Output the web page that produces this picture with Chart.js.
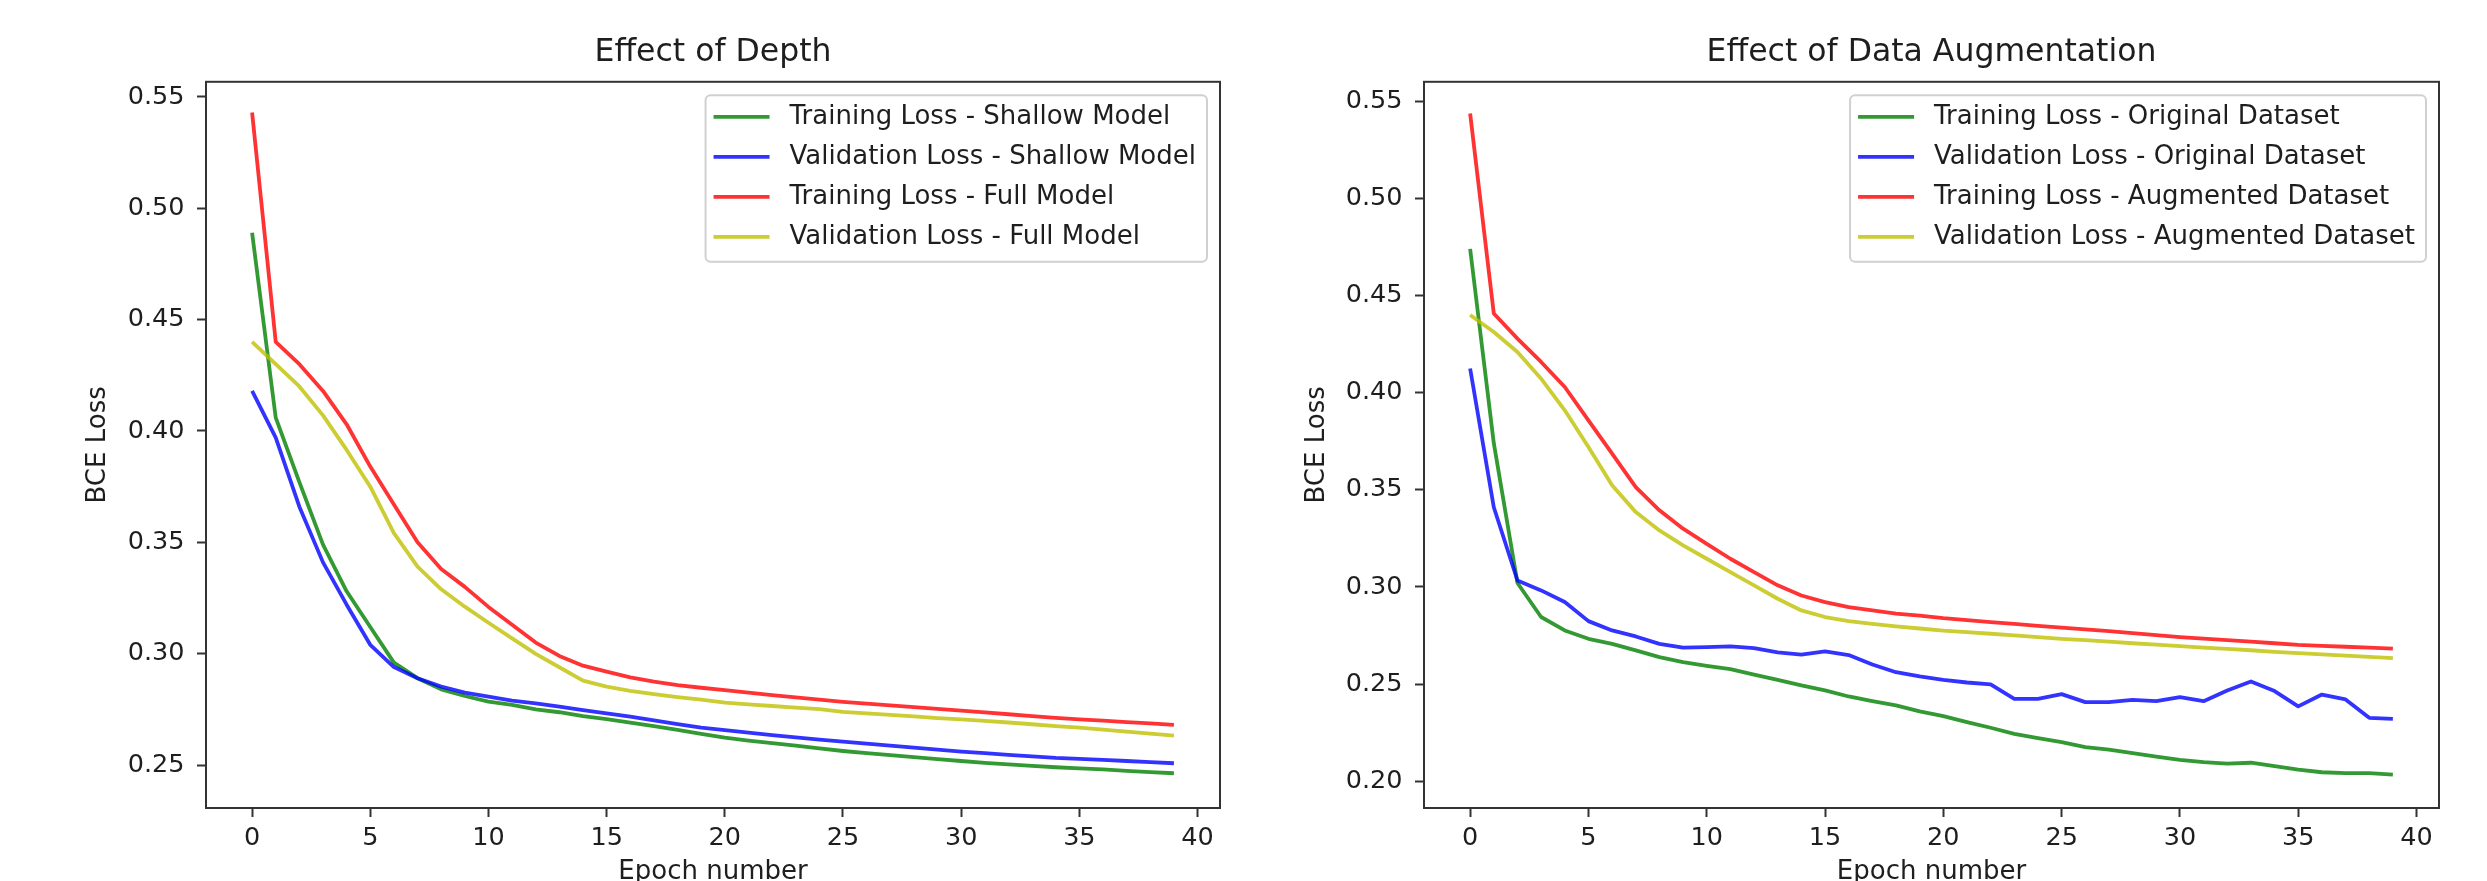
<!DOCTYPE html>
<html lang="en">
<head>
    <meta charset="UTF-8">
    <title>Effect of Depth / Effect of Data Augmentation</title>
    <script src="https://cdn.jsdelivr.net/npm/chart.js"></script>
    <style>
        body {
            margin: 0;
            background: #fff;
        }

        .wrap {
            position: relative;
            width: 2487px;
            height: 881px;
            overflow: hidden;
        }

        #depthChart {
            position: absolute;
            left: 0;
            top: 0;
        }

        #augChart {
            position: absolute;
            left: 1240px;
            top: 0;
        }
    </style>
</head>
<body>
    <div class="wrap">
        <canvas id="depthChart" width="1240" height="881"></canvas>
        <canvas id="augChart" width="1247" height="881"></canvas>
    </div>

    <script>
        // epochs + tick labels
        const epochs = [0, 1, 2, 3, 4, 5, 6, 7, 8, 9, 10, 11, 12, 13, 14, 15, 16, 17, 18, 19,
            20, 21, 22, 23, 24, 25, 26, 27, 28, 29, 30, 31, 32, 33, 34, 35, 36, 37, 38, 39];
        const epochTicks = [0, 5, 10, 15, 20, 25, 30, 35, 40];
        const depthTicks = [0.25, 0.30, 0.35, 0.40, 0.45, 0.50, 0.55];
        const augTicks = [0.20, 0.25, 0.30, 0.35, 0.40, 0.45, 0.50, 0.55];

        // left plot - depth
        const shallowTrain = [0.489, 0.406, 0.377, 0.349, 0.328, 0.312, 0.296, 0.289, 0.284, 0.281,
            0.2785, 0.277, 0.275, 0.2737, 0.272, 0.2706, 0.269, 0.2675, 0.2658, 0.264,
            0.2623, 0.261, 0.2598, 0.2587, 0.2575, 0.2563, 0.2553, 0.2544, 0.2535, 0.2526,
            0.2518, 0.251, 0.2503, 0.2496, 0.249, 0.2485, 0.248, 0.2474, 0.2468, 0.2463];
        const shallowVal = [0.418, 0.397, 0.366, 0.341, 0.322, 0.304, 0.294, 0.289, 0.2852, 0.2825,
            0.2807, 0.2789, 0.2777, 0.2762, 0.2747, 0.2732, 0.2717, 0.27, 0.2684, 0.2668,
            0.2657, 0.2645, 0.2634, 0.2624, 0.2614, 0.2605, 0.2596, 0.2587, 0.2578, 0.2569,
            0.256, 0.2553, 0.2546, 0.2539, 0.2532, 0.2528, 0.2523, 0.2518, 0.2513, 0.2508];
        const fullTrain = [0.543, 0.440, 0.430, 0.418, 0.403, 0.384, 0.367, 0.350, 0.338, 0.330,
            0.321, 0.313, 0.305, 0.299, 0.2946, 0.2919, 0.2894, 0.2874, 0.2859, 0.2847,
            0.2836, 0.2825, 0.2814, 0.2804, 0.2794, 0.2784, 0.2776, 0.2768, 0.276, 0.2752,
            0.2744, 0.2736, 0.2728, 0.272, 0.2712, 0.2705, 0.2699, 0.2693, 0.2687, 0.268];
        const fullVal = [0.440, 0.430, 0.420, 0.407, 0.3915, 0.375, 0.3541, 0.3391, 0.3289, 0.3211,
            0.3139, 0.3069, 0.2999, 0.2939, 0.2879, 0.2852, 0.2833, 0.2818, 0.2805, 0.2794,
            0.278, 0.2772, 0.2765, 0.2758, 0.2751, 0.2739, 0.2732, 0.2725, 0.2718, 0.2711,
            0.2705, 0.2698, 0.2691, 0.2683, 0.2675, 0.2668, 0.2659, 0.265, 0.2641, 0.2632];

        // right plot - augmentation
        const origTrain = [0.474, 0.374, 0.302, 0.2845, 0.2776, 0.2733, 0.2707, 0.2673, 0.2639, 0.2613,
            0.2594, 0.2577, 0.2549, 0.2522, 0.2493, 0.2467, 0.2436, 0.2412, 0.239, 0.2359,
            0.2335, 0.2304, 0.2275, 0.2244, 0.2222, 0.2201, 0.2175, 0.2162, 0.2144, 0.2127,
            0.211, 0.2098, 0.209, 0.2095, 0.2077, 0.2059, 0.2046, 0.2041, 0.2041, 0.2034];
        const origVal = [0.4124, 0.341, 0.3033, 0.2982, 0.2922, 0.2824, 0.2776, 0.2745, 0.2707, 0.2687,
            0.269, 0.2694, 0.2685, 0.2663, 0.2652, 0.2668, 0.2649, 0.2601, 0.2561, 0.2539,
            0.2522, 0.2508, 0.2498, 0.2424, 0.2424, 0.2448, 0.2407, 0.2407, 0.2419, 0.2412,
            0.2433, 0.2412, 0.2467, 0.2513, 0.2464, 0.2385, 0.2446, 0.2421, 0.2326, 0.2321];
        const augTrain = [0.5437, 0.4407, 0.4278, 0.4158, 0.4029, 0.3857, 0.3686, 0.3514, 0.3394, 0.33,
            0.3222, 0.3145, 0.3076, 0.3008, 0.2956, 0.2922, 0.2896, 0.2879, 0.2862, 0.2852,
            0.2839, 0.2829, 0.2819, 0.281, 0.28, 0.279, 0.2781, 0.2772, 0.2762, 0.2752,
            0.2742, 0.2734, 0.2726, 0.2718, 0.271, 0.2702, 0.2697, 0.2692, 0.2687, 0.2682];
        const augVal = [0.44, 0.4312, 0.4209, 0.4072, 0.3909, 0.372, 0.3523, 0.3385, 0.3291, 0.3214,
            0.3145, 0.3076, 0.3008, 0.2939, 0.2879, 0.2845, 0.2824, 0.281, 0.2797, 0.2786,
            0.2775, 0.2767, 0.2759, 0.2751, 0.2742, 0.2733, 0.2726, 0.2718, 0.271, 0.2703,
            0.2695, 0.2688, 0.2681, 0.2674, 0.2666, 0.2659, 0.2653, 0.2646, 0.264, 0.2633];

        const FONT = "'DejaVu Sans', sans-serif";
        const TEXT = "#1e1e1e";
        const AXIS = "#333";
        // matplotlib g/b/r/y with alpha .8
        const colors = ["rgba(0,128,0,0.8)", "rgba(0,0,255,0.8)", "rgba(255,0,0,0.8)", "rgba(191,191,0,0.8)"];

        Chart.defaults.font.family = FONT;
        Chart.defaults.color = TEXT;

        // axes frame (all 4 spines)
        const framePlugin = {
            id: "frame",
            afterDraw(chart) {
                const a = chart.chartArea;
                const ctx = chart.ctx;
                ctx.save();
                ctx.strokeStyle = AXIS;
                ctx.lineWidth = 2;
                ctx.strokeRect(a.left, a.top, a.right - a.left, a.bottom - a.top);
                ctx.restore();
            }
        };

        // matplotlib style legend box, upper right
        const boxLegend = {
            id: "boxLegend",
            afterDatasetsDraw(chart) {
                const ctx = chart.ctx;
                const a = chart.chartArea;
                const sets = chart.data.datasets;
                const rowH = 40, handle = 56, gap = 20;
                ctx.save();
                ctx.font = "26px " + FONT;
                const textW = Math.max(...sets.map(d => ctx.measureText(d.label).width));
                const w = 8 + handle + gap + textW + 11;
                const h = 21.5 + rowH * (sets.length - 1) + 25;
                const x = a.right - 13 - w;
                const y = a.top + 13.5;

                ctx.beginPath();
                ctx.roundRect(x, y, w, h, 5);
                ctx.fillStyle = "rgba(255,255,255,0.8)";
                ctx.fill();
                ctx.strokeStyle = "#d0d0d0";
                ctx.lineWidth = 2;
                ctx.stroke();

                sets.forEach((d, i) => {
                    const cy = y + 21.5 + i * rowH;
                    ctx.strokeStyle = d.borderColor;
                    ctx.lineWidth = d.borderWidth;
                    ctx.lineCap = "butt";
                    ctx.beginPath();
                    ctx.moveTo(x + 8, cy);
                    ctx.lineTo(x + 8 + handle, cy);
                    ctx.stroke();
                    ctx.fillStyle = TEXT;
                    ctx.textBaseline = "middle";
                    ctx.textAlign = "left";
                    ctx.fillText(d.label, x + 8 + handle + gap, cy);
                });
                ctx.restore();
            }
        };

        function makeChart(id, title, names, series, yTicks, yMin, yMax, yWidth, yTitlePad, rightPad) {
            const datasets = series.map((s, i) => ({
                label: names[i],
                data: s,
                borderColor: colors[i],
                borderWidth: 3.8,
                pointRadius: 0,
                tension: 0,
                fill: false,
                borderJoinStyle: "round",
                order: 4 - i
            }));

            return new Chart(document.getElementById(id), {
                type: "line",
                data: { labels: epochs, datasets: datasets },
                options: {
                    responsive: false,
                    animation: false,
                    devicePixelRatio: 1,
                    layout: { padding: { left: 0, right: rightPad, top: 0, bottom: 0 } },
                    plugins: {
                        legend: { display: false },
                        tooltip: { enabled: false },
                        title: {
                            display: true,
                            text: title,
                            fullSize: false,
                            color: TEXT,
                            font: { size: 31.5, weight: "normal" },
                            padding: { top: 34, bottom: 10 }
                        }
                    },
                    scales: {
                        x: {
                            type: "linear",
                            min: -1.95,
                            max: 40.95,
                            afterBuildTicks: s => { s.ticks = epochTicks.map(v => ({ value: v })); },
                            afterFit: s => { s.height = 73; s.paddingLeft = 0; s.paddingRight = 0; },
                            border: { display: false },
                            grid: { drawOnChartArea: false, drawTicks: true, tickLength: 9, tickWidth: 2, tickColor: AXIS },
                            ticks: { font: { size: 25.5 }, padding: 6, maxRotation: 0, autoSkip: false, callback: v => String(v) },
                            title: {
                                display: true,
                                text: "Epoch number",
                                font: { size: 26 },
                                padding: { top: 0, bottom: -7 }
                            }
                        },
                        y: {
                            type: "linear",
                            min: yMin,
                            max: yMax,
                            afterBuildTicks: s => { s.ticks = yTicks.map(v => ({ value: v })); },
                            afterFit: s => { s.width = yWidth; s.paddingTop = 0; s.paddingBottom = 0; },
                            border: { display: false },
                            grid: { drawOnChartArea: false, drawTicks: true, tickLength: 9, tickWidth: 2, tickColor: AXIS },
                            ticks: { font: { size: 25.5 }, padding: 12.5, autoSkip: false, callback: v => v.toFixed(2) },
                            title: {
                                display: true,
                                text: "BCE Loss",
                                font: { size: 26 },
                                padding: { top: yTitlePad, bottom: 0 }
                            }
                        }
                    }
                },
                plugins: [boxLegend, framePlugin]
            });
        }

        makeChart("depthChart", "Effect of Depth",
            ["Training Loss - Shallow Model", "Validation Loss - Shallow Model",
             "Training Loss - Full Model", "Validation Loss - Full Model"],
            [shallowTrain, shallowVal, fullTrain, fullVal],
            depthTicks, 0.2307, 0.5568, 206, 82.4, 20);

        makeChart("augChart", "Effect of Data Augmentation",
            ["Training Loss - Original Dataset", "Validation Loss - Original Dataset",
             "Training Loss - Augmented Dataset", "Validation Loss - Augmented Dataset"],
            [origTrain, origVal, augTrain, augVal],
            augTicks, 0.1862, 0.5600, 184, 61.4, 48);
    </script>
</body>
</html>
